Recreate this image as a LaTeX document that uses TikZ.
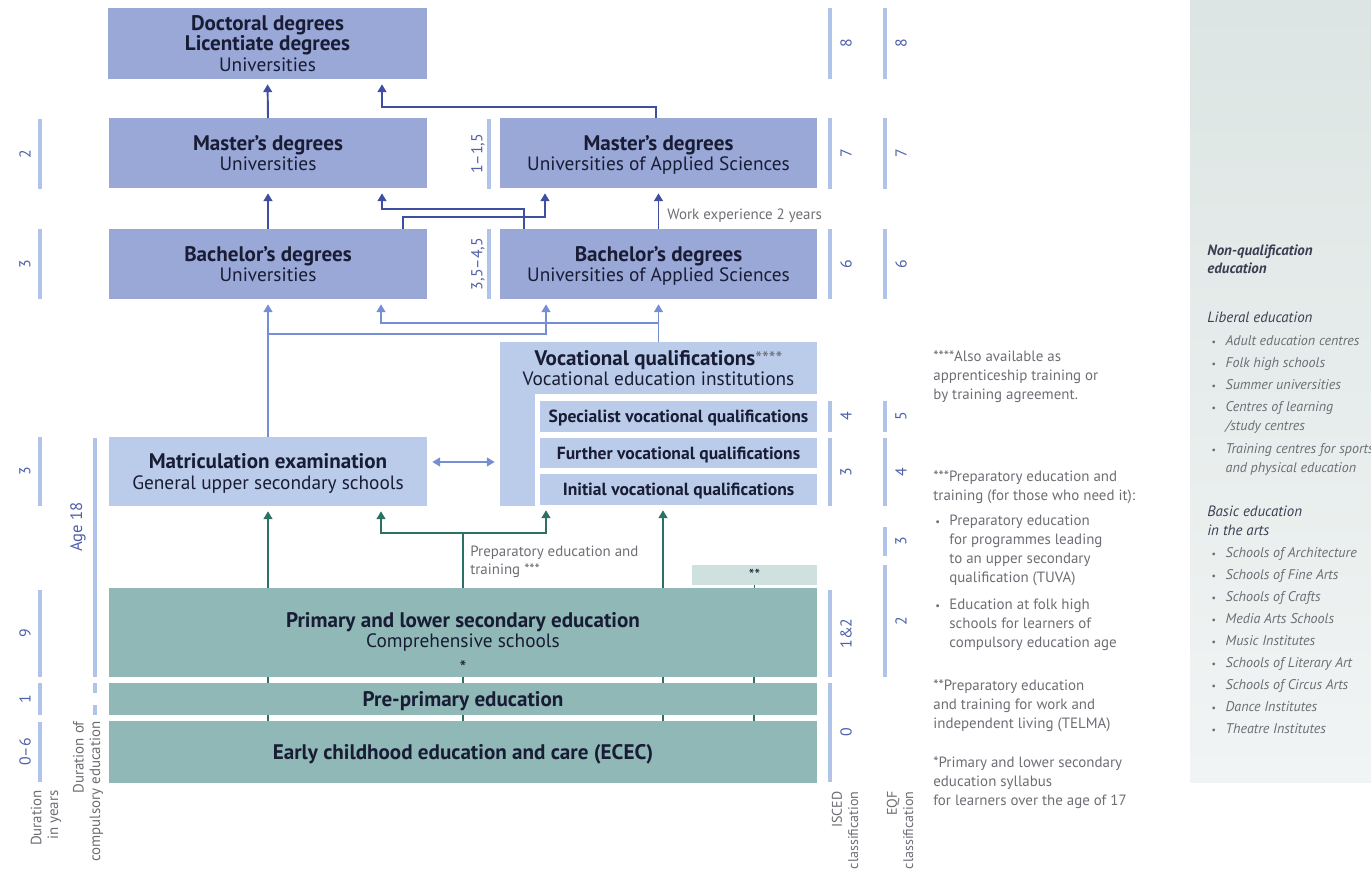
\documentclass[tikz,border=0pt]{standalone}
\usepackage{fontspec}
\setmainfont{PT Sans}
\usetikzlibrary{arrows.meta,calc}
\definecolor{uni}{RGB}{154,168,216}
\definecolor{sec}{RGB}{186,204,234}
\definecolor{bas}{RGB}{143,184,182}
\definecolor{basl}{RGB}{206,225,223}
\definecolor{lvl}{RGB}{176,196,234}
\definecolor{num}{RGB}{78,96,170}
\definecolor{dblu}{RGB}{62,78,162}
\definecolor{lblu}{RGB}{118,142,212}
\definecolor{tea}{RGB}{44,112,102}
\definecolor{ink}{RGB}{24,28,52}
\definecolor{gry}{RGB}{108,110,116}
\definecolor{panT}{RGB}{220,229,227}
\definecolor{panB}{RGB}{241,244,244}
\newcommand{\px}{0.02cm}
\newcommand{\LevelBar}[6]{%
\draw[levelbar] (#2,#3) -- (#2,#4);
\node[levelnum] (#1) at (#5,{(#3+#4)/2}) {#6};}
\newcommand{\hd}[1]{{\fontsize{12}{11.4}\selectfont\bfseries #1}}
\newcommand{\bul}[1][8pt]{\makebox[#1][l]{\scalebox{0.7}{\textbullet}}}
\newcommand{\ind}[1][8pt]{\hspace*{#1}}

\begin{document}
\begin{tikzpicture}[x=0.02cm,y=-0.02cm,line cap=butt]
	\tikzstyle{box}=[inner sep=0pt,outer sep=0pt,anchor=north west,align=center,text depth=0pt,text=ink,font=\fontsize{11}{11.4}\selectfont];
	\tikzset{wh/.style 2 args={minimum width=#1*\px,minimum height=#2*\px}};
	\tikzstyle{unibox}=[box,fill=uni];
	\tikzstyle{secbox}=[box,fill=sec];
	\tikzstyle{basbox}=[box,fill=bas];
	\tikzstyle{subbox}=[box,fill=sec,font=\bfseries\fontsize{10}{10}\selectfont];
	\tikzstyle{levelbar}=[lvl,line width=2.8pt];
	\tikzstyle{levelnum}=[rotate=90,text=num,inner sep=0pt,font=\fontsize{9}{10}\selectfont];
	\tikzstyle{tip}=[-{Triangle[length=4.5pt,width=5pt]},shorten >=3pt];
	\tikzstyle{tips}=[{Triangle[length=4.5pt,width=5pt]}-{Triangle[length=4.5pt,width=5pt]},shorten <=3pt,shorten >=3pt];
	\tikzstyle{dline}=[dblu,line width=1.1pt];
	\tikzstyle{lline}=[lblu,line width=1.1pt];
	\tikzstyle{tline}=[tea,line width=1.1pt];
	\tikzstyle{darr}=[dline,tip];
	\tikzstyle{larr}=[lline,tip];
	\tikzstyle{tarr}=[tline,tip];
	\tikzstyle{note}=[inner sep=0pt,anchor=base west,align=left,text=gry,font=\fontsize{8.5}{10.8}\selectfont];
	\tikzstyle{caption}=[rotate=90,anchor=east,inner sep=0pt,align=right,text=gry,font=\fontsize{8.5}{9.4}\selectfont];
	\tikzstyle{panel}=[inner sep=0pt,align=left,anchor=base west,text=gry,font=\itshape\fontsize{8}{10.8}\selectfont];
	\tikzstyle{panelhead}=[panel,text=ink!85,font=\itshape\fontsize{8.5}{10.5}\selectfont];
%<--------------------------------------------------------------------------->%

	\useasboundingbox (0,0) rectangle (1371,871);
	\shade[top color=panT,bottom color=panB] (1190,0) rectangle (1371,782);

	%% Higher education
	\node[unibox,wh={319}{71}] (doc) at (108,8) {\hd{Doctoral degrees}\\\hd{Licentiate degrees}\\Universities};
	\node[unibox,wh={318}{70}] (mastU) at (109,118) {\hd{Master’s degrees}\\Universities};
	\node[unibox,wh={317}{70}] (mastA) at (500,118) {\hd{Master’s degrees}\\Universities of Applied Sciences};
	\node[unibox,wh={318}{70}] (bachU) at (109,229) {\hd{Bachelor’s degrees}\\Universities};
	\node[unibox,wh={317}{70}] (bachA) at (500,229) {\hd{Bachelor’s degrees}\\Universities of Applied Sciences};

	%% Upper secondary
	\node[secbox,wh={318}{69}] (matr) at (109,437) {\hd{Matriculation examination}\\General upper secondary schools};
	\node[secbox,wh={317}{52}] (voc) at (500,342) {\hd{Vocational qualifications}{\color{gry}****}\\Vocational education institutions};
	\fill[sec] (500,394) rectangle (535,506);
	\node[subbox,wh={277}{31}] (spec) at (540,401) {Specialist vocational qualifications};
	\node[subbox,wh={277}{30}] (furt) at (540,438) {Further vocational qualifications};
	\node[subbox,wh={277}{31}] (init) at (540,474) {Initial vocational qualifications};

	%% Basic education
	\node[box,fill=basl,wh={125}{20},font=\fontsize{9}{10}\selectfont] (telma) at (692,565) {**};
	\node[basbox,wh={708}{89},text height=48pt] (prim) at (109,588) {\hd{Primary and lower secondary education}\\Comprehensive schools\\[4pt]{*}};
	\node[basbox,wh={708}{32}] (pre) at (109,683) {\hd{Pre-primary education}};
	\node[basbox,wh={708}{62}] (ecec) at (109,721) {\hd{Early childhood education and care (ECEC)}};

	%% Arrows
	\draw[darr] (mastU.north) -- (doc.south);
	\coordinate (k1) at (656,107);
	\coordinate (k2) at (382,107);
	\draw[darr] (mastA.north -| k1) -- (k1) -- (k2) -- (doc.south -| k2);
	\draw[darr] (bachU.north) -- (mastU.south);
	\coordinate (k3) at (524,209);
	\coordinate (k4) at (382,209);
	\draw[darr] (bachA.north -| k3) -- (k3) -- (k4) -- (mastU.south -| k4);
	\coordinate (k5) at (403,217);
	\coordinate (k6) at (545,217);
	\draw[darr] (bachU.north -| k5) -- (k5) -- (k6) -- (mastA.south -| k6);
	\draw[darr] (bachA.north) -- (mastA.south);
	\node[note] (work) at (667,220) {Work experience 2 years};

	\draw[larr] (matr.north) -- (bachU.south);
	\coordinate (k7) at (268,334);
	\coordinate (k8) at (546,334);
	\draw[larr] (k7) -- (k8) -- (bachA.south -| k8);
	\draw[larr] (voc.north) -- (bachA.south);
	\coordinate (k9) at (658.5,323);
	\coordinate (k10) at (381,323);
	\draw[larr] (k9) -- (k10) -- (bachU.south -| k10);
	\draw[lline,tips] ($(matr.east)+(0,-9.5)$) -- ($(matr.east)+(73,-9.5)$);

	\draw[tarr] (prim.north -| matr.south) -- (matr.south);
	\coordinate (k11) at (663,533);
	\draw[tarr] (prim.north -| k11) -- (init.south -| k11);
	\coordinate (k12) at (463,533);
	\coordinate (k13) at (381,533);
	\coordinate (k14) at (546,533);
	\draw[tline] (prim.north) -- (k12);
	\draw[tline,tips] (matr.south -| k13) -- (k13) -- (k14) -- (init.south -| k14);
	\node[note,font=\fontsize{8.5}{10.2}\selectfont] (prep) at (470,574) {Preparatory education and\\training ***};
	\draw[tline] (telma.south) -- (prim.north -| telma.south);
	\foreach \xx in {268,463,663,754}{
		\coordinate (t) at (\xx,0);
		\draw[tline] (prim.south -| t) -- (pre.north -| t);
		\draw[tline] (pre.south -| t) -- (ecec.north -| t);
	}

	%% Durations
	\LevelBar{d1}{40}{119}{189}{25}{2}
	\LevelBar{d2}{40}{229}{299}{25}{3}
	\LevelBar{d3}{40}{437}{506}{25}{3}
	\LevelBar{d4}{40}{590}{677}{25}{9}
	\LevelBar{d5}{40}{683}{715}{25}{1}
	\LevelBar{d6}{40}{722}{782}{25}{0–6}
	\LevelBar{d7}{489}{119}{189}{478}{1–1,5}
	\LevelBar{d8}{489}{229}{299}{478}{3,5–4,5}
	\draw[levelbar] (95,438) -- (95,677);
	\draw[levelbar] (95,683) -- (95,693);
	\draw[levelbar] (95,705) -- (95,715);
	\node[levelnum,font=\fontsize{9.5}{10}\selectfont] (age) at (78,527) {Age 18};

	%% ISCED and EQF
	\LevelBar{i8}{830}{8}{79}{846}{8}
	\LevelBar{i7}{830}{118}{189}{846}{7}
	\LevelBar{i6}{830}{229}{299}{846}{6}
	\LevelBar{i4}{830}{401}{432}{846}{4}
	\LevelBar{i3}{830}{438}{506}{846}{3}
	\LevelBar{i1}{830}{590}{677}{846}{1\&2}
	\LevelBar{i0}{830}{683}{782}{846}{0}
	\LevelBar{e8}{885}{8}{79}{901}{8}
	\LevelBar{e7}{885}{118}{189}{901}{7}
	\LevelBar{e6}{885}{229}{299}{901}{6}
	\LevelBar{e5}{885}{401}{432}{901}{5}
	\LevelBar{e4}{885}{438}{506}{901}{4}
	\LevelBar{e3}{885}{527}{556}{901}{3}
	\LevelBar{e2}{885}{565}{677}{901}{2}

	%% Captions
	\node[caption] (dury) at (46,790) {Duration\\in years};
	\node[caption] (durc) at (88,721) {Duration of\\compulsory education};
	\node[caption,font=\fontsize{8}{9.2}\selectfont] (isced) at (845,791) {ISCED\\classification};
	\node[caption,font=\fontsize{8}{9.2}\selectfont] (eqf) at (900,791) {EQF\\classification};

	%% Notes
	\node[note] (n4) at (933,399) {****Also available as\\apprenticeship training or\\by training agreement.};
	\node[note] (n3) at (933,500) {***Preparatory education and\\training (for those who need it):};
	\node[note] (n3a) at (935,582) {\bul Preparatory education\\\ind for programmes leading\\\ind to an upper secondary\\\ind qualification (TUVA)};
	\node[note] (n3b) at (935,647) {\bul Education at folk high\\\ind schools for learners of\\\ind compulsory education age};
	\node[note] (n2) at (933,728) {**Preparatory education\\and training for work and\\independent living (TELMA)};
	\node[note] (n1) at (933,805) {*Primary and lower secondary\\education syllabus\\for learners over the age of 17};

	%% Non-qualification education
	\node[panelhead,font=\bfseries\itshape\fontsize{8.5}{10.5}\selectfont] (pnq) at (1207,274) {Non-qualification\\education};
	\node[panelhead] (plib) at (1207,322) {Liberal education};
	\node[panel] (plibl) at (1211,472) {\bul[6pt] Adult education centres\\[1.8pt]\bul[6pt] Folk high schools\\[1.8pt]\bul[6pt] Summer universities\\[1.8pt]\bul[6pt] Centres of learning\\\ind[6pt] /study centres\\[1.8pt]\bul[6pt] Training centres for sports\\\ind[6pt] and physical education};
	\node[panelhead] (parts) at (1207,535) {Basic education\\in the arts};
	\node[panel,font=\itshape\fontsize{8}{12.5}\selectfont] (partsl) at (1211,733) {\bul[6pt] Schools of Architecture\\\bul[6pt] Schools of Fine Arts\\\bul[6pt] Schools of Crafts\\\bul[6pt] Media Arts Schools\\\bul[6pt] Music Institutes\\\bul[6pt] Schools of Literary Art\\\bul[6pt] Schools of Circus Arts\\\bul[6pt] Dance Institutes\\\bul[6pt] Theatre Institutes};
\end{tikzpicture}
\end{document}
